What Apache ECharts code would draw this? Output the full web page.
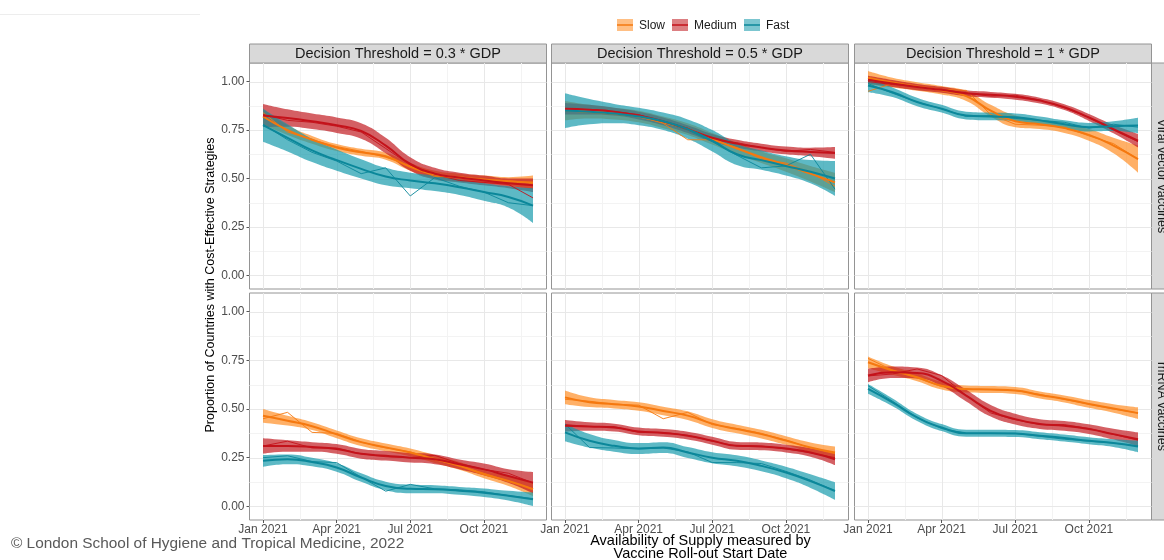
<!DOCTYPE html>
<html><head><meta charset="utf-8">
<script src="https://cdn.jsdelivr.net/npm/echarts@6/dist/echarts.min.js"></script>
<style>html,body{margin:0;padding:0;background:#fff}#c{width:1164px;height:560px}</style>
</head><body><div id="c"></div>
<script>
// ---------- categories / ticks ----------
const monthIdx = [0,1,2,3,4,5,6,7,8,9,10,11]; // Jan 2021 .. Dec 2021
const xTickValues = [0,3,6,9];
const xTickLabels = ['Jan 2021','Apr 2021','Jul 2021','Oct 2021'];
const xMinorValues = [1.5,4.5,7.5,10.5];
const yTickValues = [0,0.25,0.5,0.75,1];
const yMinorValues = [0.125,0.375,0.625,0.875];
const thresholds = ['Decision Threshold = 0.3 * GDP','Decision Threshold = 0.5 * GDP','Decision Threshold = 1 * GDP'];
const vaccineTypes = ['Viral vector vaccines','mRNA vaccines'];
const speeds = ['Slow','Medium','Fast'];

// ---------- data: fitted value, CI half-width, raw value ----------
// Viral vector, 0.3 GDP
const vv03Slow = { fit:[0.82,0.75,0.70,0.66,0.635,0.615,0.56,0.52,0.505,0.495,0.485,0.48],
  ci:[0.04,0.025,0.02,0.018,0.018,0.018,0.02,0.02,0.02,0.02,0.022,0.035],
  raw:[0.84,0.74,0.70,0.665,0.64,0.61,0.565,0.51,0.51,0.49,0.49,0.475] };
const vv03Medium = { fit:[0.825,0.812,0.795,0.775,0.745,0.67,0.575,0.525,0.505,0.49,0.475,0.465],
  ci:[0.06,0.045,0.04,0.04,0.04,0.04,0.035,0.03,0.025,0.025,0.025,0.035],
  raw:[0.83,0.80,0.79,0.77,0.74,0.655,0.57,0.52,0.49,0.48,0.47,0.40] };
const vv03Fast = { fit:[0.775,0.71,0.645,0.595,0.55,0.51,0.49,0.475,0.455,0.43,0.405,0.36],
  ci:[0.085,0.07,0.06,0.055,0.05,0.045,0.04,0.04,0.04,0.045,0.055,0.09],
  raw:[0.78,0.70,0.635,0.59,0.525,0.555,0.41,0.505,0.46,0.43,0.375,0.36] };
// Viral vector, 0.5 GDP
const vv05Slow = { fit:[0.85,0.845,0.835,0.82,0.79,0.755,0.705,0.655,0.61,0.57,0.525,0.48],
  ci:[0.05,0.035,0.03,0.03,0.03,0.03,0.03,0.03,0.03,0.035,0.04,0.05],
  raw:[0.85,0.84,0.83,0.82,0.785,0.70,0.70,0.66,0.60,0.58,0.53,0.46] };
const vv05Medium = { fit:[0.86,0.855,0.845,0.825,0.795,0.755,0.71,0.68,0.66,0.645,0.637,0.632],
  ci:[0.03,0.025,0.02,0.02,0.02,0.02,0.02,0.02,0.02,0.02,0.022,0.03],
  raw:[0.86,0.85,0.845,0.83,0.79,0.76,0.70,0.685,0.66,0.64,0.65,0.635] };
const vv05Fast = { fit:[0.85,0.845,0.835,0.82,0.795,0.755,0.695,0.625,0.595,0.565,0.535,0.50],
  ci:[0.09,0.065,0.05,0.045,0.045,0.05,0.055,0.055,0.05,0.05,0.06,0.09],
  raw:[0.85,0.84,0.83,0.82,0.79,0.75,0.69,0.62,0.555,0.565,0.625,0.445] };
// Viral vector, 1 GDP
const vv1Slow = { fit:[1.02,0.995,0.975,0.955,0.925,0.85,0.795,0.78,0.76,0.725,0.67,0.60],
  ci:[0.035,0.025,0.022,0.022,0.025,0.03,0.03,0.025,0.025,0.03,0.04,0.07],
  raw:[0.95,0.99,0.975,0.96,0.955,0.83,0.78,0.775,0.765,0.72,0.68,0.60] };
const vv1Medium = { fit:[1.01,0.99,0.972,0.958,0.94,0.932,0.922,0.902,0.868,0.815,0.755,0.695],
  ci:[0.02,0.018,0.016,0.015,0.015,0.015,0.015,0.015,0.015,0.018,0.022,0.035],
  raw:[1.0,0.985,0.975,0.96,0.94,0.925,0.93,0.905,0.865,0.815,0.75,0.69] };
const vv1Fast = { fit:[0.98,0.945,0.895,0.86,0.825,0.82,0.816,0.80,0.78,0.765,0.77,0.773],
  ci:[0.035,0.025,0.022,0.02,0.02,0.02,0.02,0.02,0.02,0.022,0.025,0.04],
  raw:[0.99,0.94,0.895,0.86,0.82,0.825,0.81,0.80,0.79,0.76,0.78,0.765] };
// mRNA, 0.3 GDP
const mr03Slow = { fit:[0.465,0.44,0.412,0.37,0.33,0.303,0.277,0.243,0.208,0.165,0.13,0.088],
  ci:[0.035,0.025,0.02,0.02,0.02,0.02,0.02,0.02,0.02,0.02,0.025,0.035],
  raw:[0.45,0.483,0.38,0.375,0.33,0.30,0.28,0.24,0.21,0.17,0.13,0.09] };
const mr03Medium = { fit:[0.31,0.31,0.305,0.295,0.27,0.26,0.25,0.242,0.216,0.19,0.156,0.122],
  ci:[0.04,0.03,0.025,0.025,0.025,0.025,0.025,0.025,0.025,0.03,0.035,0.055],
  raw:[0.31,0.335,0.30,0.30,0.27,0.255,0.25,0.262,0.22,0.19,0.17,0.12] };
const mr03Fast = { fit:[0.234,0.242,0.228,0.2,0.148,0.105,0.09,0.088,0.08,0.07,0.055,0.036],
  ci:[0.03,0.025,0.022,0.022,0.022,0.022,0.022,0.02,0.02,0.022,0.025,0.035],
  raw:[0.25,0.26,0.23,0.225,0.15,0.078,0.113,0.09,0.085,0.075,0.055,0.04] };
// mRNA, 0.5 GDP
const mr05Slow = { fit:[0.56,0.535,0.525,0.513,0.49,0.466,0.425,0.397,0.371,0.338,0.303,0.277],
  ci:[0.035,0.025,0.022,0.022,0.022,0.022,0.022,0.022,0.022,0.022,0.025,0.03],
  raw:[0.55,0.54,0.525,0.52,0.45,0.483,0.42,0.40,0.375,0.34,0.30,0.27] };
const mr05Medium = { fit:[0.414,0.41,0.405,0.385,0.377,0.363,0.337,0.311,0.308,0.297,0.277,0.242],
  ci:[0.03,0.022,0.02,0.02,0.02,0.02,0.02,0.02,0.02,0.02,0.022,0.03],
  raw:[0.42,0.41,0.41,0.38,0.38,0.365,0.335,0.31,0.31,0.295,0.275,0.25] };
const mr05Fast = { fit:[0.38,0.337,0.311,0.297,0.302,0.277,0.25,0.234,0.208,0.174,0.13,0.079],
  ci:[0.045,0.035,0.03,0.028,0.028,0.028,0.028,0.028,0.028,0.03,0.035,0.045],
  raw:[0.423,0.302,0.30,0.295,0.30,0.28,0.225,0.225,0.22,0.18,0.135,0.08] };
// mRNA, 1 GDP
const mr1Slow = { fit:[0.74,0.698,0.663,0.62,0.603,0.60,0.595,0.572,0.552,0.526,0.503,0.479],
  ci:[0.03,0.022,0.02,0.02,0.018,0.018,0.018,0.018,0.018,0.02,0.022,0.03],
  raw:[0.76,0.70,0.66,0.615,0.60,0.60,0.595,0.575,0.55,0.525,0.50,0.48] };
const mr1Medium = { fit:[0.672,0.689,0.685,0.645,0.569,0.491,0.448,0.423,0.414,0.397,0.371,0.345],
  ci:[0.035,0.03,0.028,0.028,0.03,0.03,0.028,0.025,0.025,0.025,0.028,0.035],
  raw:[0.67,0.68,0.706,0.672,0.57,0.48,0.445,0.42,0.42,0.40,0.37,0.34] };
const mr1Fast = { fit:[0.603,0.534,0.457,0.405,0.376,0.376,0.374,0.363,0.351,0.337,0.325,0.308],
  ci:[0.025,0.02,0.018,0.018,0.018,0.018,0.018,0.018,0.018,0.018,0.02,0.03],
  raw:[0.62,0.54,0.455,0.40,0.375,0.375,0.375,0.36,0.345,0.335,0.325,0.31] };

const panelData = [
  [vv03Slow, vv03Medium, vv03Fast], [vv05Slow, vv05Medium, vv05Fast], [vv1Slow, vv1Medium, vv1Fast],
  [mr03Slow, mr03Medium, mr03Fast], [mr05Slow, mr05Medium, mr05Fast], [mr1Slow, mr1Medium, mr1Fast]
];

// ---------- styles / layout ----------
const FONT = '"Liberation Sans", Arial, Helvetica, sans-serif';
const lineColors = ['#f5780f', '#c4121a', '#0b879a'];
const bandColors = ['#ff8a1f', '#c0151b', '#1098aa'];
const bandOpacity = 0.68;
const colLeft = [249.5, 551.5, 854.5];
const colWidth = 297;
const rowTop = [63, 293];
const rowHeight = [226, 227];
const xMin = -0.55, xMax = 11.55;
const yMin = -0.07, yMax = 1.096;

// ECharts-like smoothing of a pixel polyline into bezier segments
function smoothSegs(pts, smooth) {
  let d = '';
  const n = pts.length;
  let cp0x = pts[0][0], cp0y = pts[0][1];
  for (let i = 1; i < n; i++) {
    const x = pts[i][0], y = pts[i][1];
    let cp1x = x, cp1y = y, ncx = x, ncy = y;
    if (i < n - 1) {
      const px = pts[i-1][0], py = pts[i-1][1], nx = pts[i+1][0], ny = pts[i+1][1];
      let vx = nx - px, vy = ny - py;
      const l0 = Math.hypot(x - px, y - py), l1 = Math.hypot(nx - x, ny - y);
      const r = l1 / ((l0 + l1) || 1);
      ncx = x + vx * smooth * r; ncy = y + vy * smooth * r;
      ncx = Math.min(ncx, Math.max(nx, x)); ncy = Math.min(ncy, Math.max(ny, y));
      ncx = Math.max(ncx, Math.min(nx, x)); ncy = Math.max(ncy, Math.min(ny, y));
      vx = ncx - x; vy = ncy - y;
      cp1x = x - vx * l0 / (l1 || 1); cp1y = y - vy * l0 / (l1 || 1);
      cp1x = Math.min(cp1x, Math.max(px, x)); cp1y = Math.min(cp1y, Math.max(py, y));
      cp1x = Math.max(cp1x, Math.min(px, x)); cp1y = Math.max(cp1y, Math.min(py, y));
      vx = x - cp1x; vy = y - cp1y;
      ncx = x + vx * l1 / (l0 || 1); ncy = y + vy * l1 / (l0 || 1);
    }
    d += ' C' + cp0x + ',' + cp0y + ' ' + cp1x + ',' + cp1y + ' ' + x + ',' + y;
    cp0x = ncx; cp0y = ncy;
  }
  return d;
}

const grids = [], xAxes = [], yAxes = [], series = [], graphic = [];

for (let r = 0; r < 2; r++) {
  for (let c = 0; c < 3; c++) {
    const p = r * 3 + c;
    grids.push({ left: colLeft[c], top: rowTop[r], width: colWidth, height: rowHeight[r],
      show: true, borderColor: '#949494', borderWidth: 1, backgroundColor: '#ffffff' });
    xAxes.push({ type: 'value', gridIndex: p, min: xMin, max: xMax,
      splitLine: { show: false }, axisLine: { show: false, onZero: false },
      axisTick: { show: r === 1, customValues: xTickValues, length: 3, lineStyle: { color: '#555' } },
      axisLabel: { show: r === 1, customValues: xTickValues, fontSize: 12, color: '#4d4d4d', margin: 4,
        fontFamily: FONT, formatter: v => xTickLabels[xTickValues.indexOf(v)] } });
    yAxes.push({ type: 'value', gridIndex: p, min: yMin, max: yMax,
      splitLine: { show: false }, axisLine: { show: false, onZero: false },
      axisTick: { show: c === 0, customValues: yTickValues, length: 3, lineStyle: { color: '#555' } },
      axisLabel: { show: c === 0, customValues: yTickValues, fontSize: 12, color: '#4d4d4d', margin: 5,
        fontFamily: FONT, formatter: v => v.toFixed(2) } });

    // gridlines (through the axis scales)
    series.push({ type: 'custom', xAxisIndex: p, yAxisIndex: p, silent: true, z: 1, clip: true,
      data: [[0, 0]],
      renderItem: (params, api) => {
        const cs = params.coordSys;
        const ch = [];
        const vline = (v, col) => { const x = Math.round(api.coord([v, 0])[0]) + 0.5;
          ch.push({ type: 'line', shape: { x1: x, y1: cs.y, x2: x, y2: cs.y + cs.height }, style: { stroke: col, lineWidth: 1 } }); };
        const hline = (v, col) => { const y = Math.round(api.coord([0, v])[1]) + 0.5;
          ch.push({ type: 'line', shape: { x1: cs.x, y1: y, x2: cs.x + cs.width, y2: y }, style: { stroke: col, lineWidth: 1 } }); };
        xMinorValues.forEach(v => vline(v, '#f3f3f3'));
        yMinorValues.forEach(v => hline(v, '#f3f3f3'));
        xTickValues.forEach(v => vline(v, '#e8e8e8'));
        yTickValues.forEach(v => hline(v, '#e8e8e8'));
        return { type: 'group', children: ch };
      } });

    // raw lines
    panelData[p].forEach((d, s) => {
      series.push({ type: 'line', name: speeds[s], xAxisIndex: p, yAxisIndex: p, silent: true, z: 2,
        showSymbol: false, symbol: 'none', data: monthIdx.map((m, i) => [m, d.raw[i]]),
        lineStyle: { color: lineColors[s], width: 0.9 } });
    });

    // smooth bands + fitted lines
    panelData[p].forEach((d, s) => {
      const lo = d.fit.map((v, i) => v - d.ci[i]);
      const hi = d.fit.map((v, i) => v + d.ci[i]);
      series.push({ type: 'custom', xAxisIndex: p, yAxisIndex: p, silent: true, z: 2, clip: true,
        data: monthIdx.map((m, i) => [m, lo[i], hi[i]]),
        renderItem: (params, api) => {
          if (params.dataIndex !== 0) return null;
          const up = monthIdx.map((m, i) => api.coord([m, hi[i]]));
          const dn = monthIdx.map((m, i) => api.coord([m, lo[i]])).reverse();
          const path = 'M' + up[0][0] + ',' + up[0][1] + smoothSegs(up, 0.5) +
            ' L' + dn[0][0] + ',' + dn[0][1] + smoothSegs(dn, 0.5) + ' Z';
          return { type: 'path', shape: { pathData: path }, style: { fill: bandColors[s], opacity: bandOpacity } };
        } });
      series.push({ type: 'line', name: speeds[s], xAxisIndex: p, yAxisIndex: p, silent: true, z: 2,
        smooth: true, showSymbol: false, symbol: 'none', data: monthIdx.map((m, i) => [m, d.fit[i]]),
        lineStyle: { color: lineColors[s], width: 2 } });
    });
  }
}

// strips
thresholds.forEach((t, c) => {
  graphic.push({ type: 'rect', shape: { x: colLeft[c], y: 44, width: colWidth, height: 19 },
    style: { fill: '#d9d9d9', stroke: '#949494', lineWidth: 1 } });
  graphic.push({ type: 'text', x: colLeft[c] + colWidth / 2, y: 53.5,
    style: { text: t, fontSize: 14.5, fontFamily: FONT, fill: '#1a1a1a', align: 'center', verticalAlign: 'middle' } });
});
vaccineTypes.forEach((t, r) => {
  graphic.push({ type: 'rect', shape: { x: 1151.5, y: rowTop[r], width: 19, height: rowHeight[r] },
    style: { fill: '#d9d9d9', stroke: '#949494', lineWidth: 1 } });
  graphic.push({ type: 'text', x: 1161, y: rowTop[r] + rowHeight[r] / 2, rotation: -Math.PI / 2,
    style: { text: t, fontSize: 12.5, fontFamily: FONT, fill: '#1a1a1a', align: 'center', verticalAlign: 'middle' } });
});

// legend
const legendKeyX = [617, 672, 744];
speeds.forEach((name, s) => {
  graphic.push({ type: 'rect', shape: { x: legendKeyX[s], y: 19, width: 16, height: 12 },
    style: { fill: bandColors[s], opacity: 0.55 } });
  graphic.push({ type: 'line', shape: { x1: legendKeyX[s], y1: 25, x2: legendKeyX[s] + 16, y2: 25 },
    style: { stroke: lineColors[s], lineWidth: 1.5 } });
  graphic.push({ type: 'text', x: legendKeyX[s] + 22, y: 25.5,
    style: { text: name, fontSize: 12, fontFamily: FONT, fill: '#1a1a1a', align: 'left', verticalAlign: 'middle' } });
});

// axis titles & caption
graphic.push({ type: 'text', x: 211, y: 285, rotation: Math.PI / 2,
  style: { text: 'Proportion of Countries with Cost-Effective Strategies', fontSize: 12.5, fontFamily: FONT,
    fill: '#000', align: 'center', verticalAlign: 'middle' } });
graphic.push({ type: 'text', x: 700.5, y: 541,
  style: { text: 'Availability of Supply measured by', fontSize: 14.5, fontFamily: FONT, fill: '#000', align: 'center', verticalAlign: 'middle' } });
graphic.push({ type: 'text', x: 700.5, y: 554,
  style: { text: 'Vaccine Roll-out Start Date', fontSize: 14.5, fontFamily: FONT, fill: '#000', align: 'center', verticalAlign: 'middle' } });
graphic.push({ type: 'text', x: 11, y: 544,
  style: { text: '\u00A9 London School of Hygiene and Tropical Medicine, 2022', fontSize: 15.4, fontFamily: FONT,
    fill: '#595959', align: 'left', verticalAlign: 'middle' } });
graphic.push({ type: 'line', shape: { x1: 0, y1: 14.5, x2: 200, y2: 14.5 }, style: { stroke: '#ededed', lineWidth: 1 } });

const chart = echarts.init(document.getElementById('c'), null, { renderer: 'canvas' });
chart.setOption({
  animation: false,
  backgroundColor: '#ffffff',
  textStyle: { fontFamily: FONT },
  grid: grids, xAxis: xAxes, yAxis: yAxes, series: series, graphic: graphic
});
</script>
</body></html>
